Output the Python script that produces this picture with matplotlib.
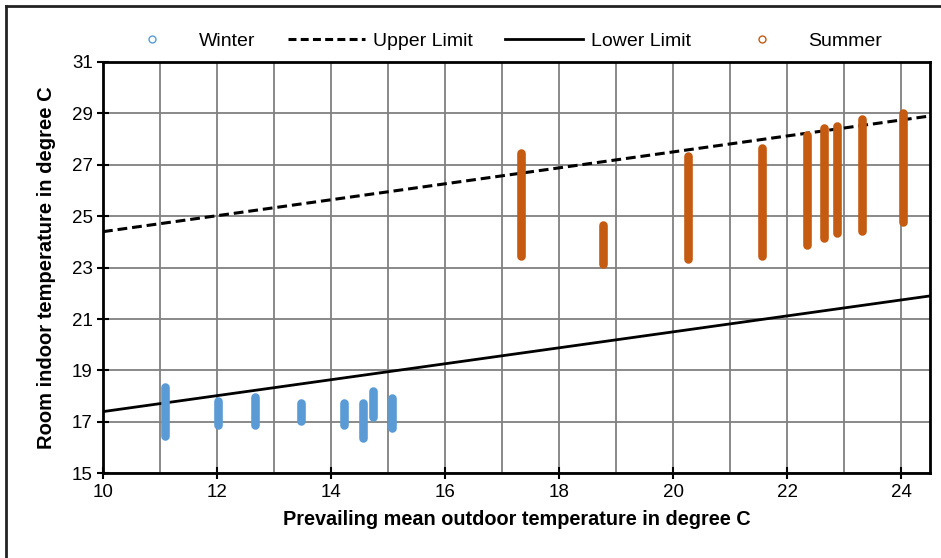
import numpy as np
import matplotlib
matplotlib.use('Agg')
import matplotlib.pyplot as plt
from matplotlib.lines import Line2D

plt.rcParams['font.family'] = ['Liberation Sans', 'DejaVu Sans']

# winter measurements: prevailing mean outdoor temp, min / max room temp
winter_x = [11.08, 12.02, 12.66, 13.47, 14.23, 14.55, 14.73, 15.06]
winter_lo = [16.45, 16.88, 16.88, 17.05, 16.88, 16.38, 17.20, 16.78]
winter_hi = [18.35, 17.82, 17.95, 17.75, 17.72, 17.75, 18.20, 17.92]

# summer measurements
summer_x = [17.33, 18.76, 20.25, 21.56, 22.35, 22.65, 22.87, 23.30, 24.02]
summer_lo = [23.45, 23.15, 23.35, 23.45, 23.90, 24.15, 24.33, 24.42, 24.78]
summer_hi = [27.45, 24.65, 27.35, 27.65, 28.15, 28.45, 28.52, 28.78, 29.00]

# comfort band limits (end points)
limit_x = [10, 24.5]
upper_limit = [24.4, 28.9]
lower_limit = [17.4, 21.9]

blue = '#5B9BD5'
orange = '#C55A11'

fig = plt.figure(figsize=(9.41, 5.58), dpi=100)
ax = fig.add_axes([0.1095, 0.1518, 0.8788, 0.7371])

ax.set_xlim(10, 24.5)
ax.set_ylim(15, 31)
ax.set_xticks(np.arange(10, 25, 2))
ax.set_xticks(np.arange(11, 25, 2), minor=True)
ax.set_yticks(np.arange(15, 32, 2))
ax.grid(True, which='both', color='#808080', lw=1.3)
ax.set_axisbelow(True)
ax.tick_params(which='major', direction='inout', length=9, width=1.5,
               labelsize=13.5, pad=3)
ax.tick_params(which='minor', length=0)
for s in ax.spines.values():
    s.set_linewidth(2)
    s.set_color('black')

ax.plot(limit_x, upper_limit, color='black', ls=(0, (3.2, 1.6)), lw=2.2, zorder=3)
ax.plot(limit_x, lower_limit, color='black', ls='-', lw=2.0, zorder=3)

for x, lo, hi in zip(winter_x, winter_lo, winter_hi):
    ax.plot([x, x], [lo, hi], color=blue, lw=6.2, solid_capstyle='round', zorder=4)
for x, lo, hi in zip(summer_x, summer_lo, summer_hi):
    ax.plot([x, x], [lo, hi], color=orange, lw=6.2, solid_capstyle='round', zorder=4)

ax.set_xlabel('Prevailing mean outdoor temperature in degree C',
              fontsize=14.3, fontweight='bold', labelpad=7)
ax.set_ylabel('Room indoor temperature in degree C',
              fontsize=14.5, fontweight='bold', labelpad=11)

handles = [
    Line2D([], [], ls='none', marker='o', ms=5, mfc='white', mec=blue, mew=1),
    Line2D([], [], color='black', ls=(0, (2.6, 1.4)), lw=2.2),
    Line2D([], [], color='black', lw=2.0),
    Line2D([], [], ls='none', marker='o', ms=5, mfc='white', mec=orange, mew=1),
]
labels = ['Winter', 'Upper Limit', 'Lower Limit', 'Summer']
fig.legend(handles, labels, loc='center', bbox_to_anchor=(0.529, 0.926),
           ncol=4, frameon=False, fontsize=14, handlelength=4.0,
           handletextpad=0.4, columnspacing=1.65)

# outer frame (left and top edges visible)
fig.add_artist(Line2D([0.0065, 0.0065], [0, 0.99], transform=fig.transFigure,
                      color='#222222', lw=2))
fig.add_artist(Line2D([0.0065, 1.0], [0.99, 0.99], transform=fig.transFigure,
                      color='#222222', lw=2))

fig.savefig('out.png', dpi=100)
